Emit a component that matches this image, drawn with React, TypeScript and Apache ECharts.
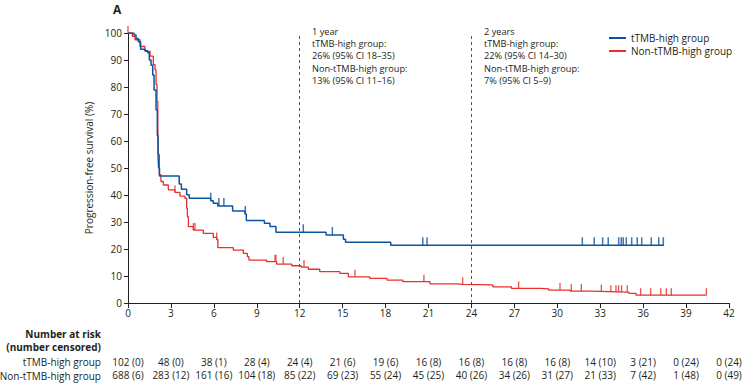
import React, { useEffect, useRef } from "react";
import * as echarts from "echarts";

const xTicks = [0, 3, 6, 9, 12, 15, 18, 21, 24, 27, 30, 33, 36, 39, 42];
const riskHigh = ["102 (0)", "48 (0)", "38 (1)", "28 (4)", "24 (4)", "21 (6)", "19 (6)", "16 (8)", "16 (8)", "16 (8)", "16 (8)", "14 (10)", "3 (21)", "0 (24)", "0 (24)"];
const riskNon = ["688 (6)", "283 (12)", "161 (16)", "104 (18)", "85 (22)", "69 (23)", "55 (24)", "45 (25)", "40 (26)", "34 (26)", "31 (27)", "21 (33)", "7 (42)", "1 (48)", "0 (49)"];

const blueCurve: [number, number][] = [
  [0, 100], [0.42, 99.3], [0.56, 98], [0.72, 96.8], [0.88, 94], [1.19, 93.4], [1.38, 92.7],
  [1.49, 90], [1.61, 88.1], [1.73, 84.4], [1.82, 78.9], [1.96, 71.5], [2.05, 62], [2.1, 55],
  [2.14, 50], [2.2, 47], [3.58, 44.1], [3.73, 42.1], [4.1, 40.1], [4.28, 38.8], [5.78, 37.9],
  [5.96, 36.9], [6.27, 35.9], [7.31, 34.1], [8.18, 33], [8.27, 30.6], [9.53, 29.5], [9.92, 28.3],
  [10.34, 26.2], [13.84, 25.2], [15.05, 23.6], [15.2, 22.5], [18.36, 21.4], [37.45, 21.4],
];

const redCurve: [number, number][] = [
  [0, 100], [0.3, 98.8], [0.49, 97.5], [0.84, 95], [1.19, 93.2], [1.54, 91.4], [1.77, 88.3],
  [1.89, 86.4], [1.96, 80.9], [2.03, 74.7], [2.08, 66], [2.12, 55], [2.19, 47.5], [2.3, 45],
  [2.47, 43.7], [2.82, 41.9], [3.28, 41], [3.63, 39.6], [3.98, 38.8], [4.1, 35], [4.15, 32],
  [4.22, 28.3], [4.57, 27], [5.26, 25.8], [5.96, 24.3], [6.2, 23.5], [6.28, 20.5], [7.36, 19.6],
  [8.06, 18.4], [8.34, 17.2], [8.45, 15.9], [9.69, 15.3], [10.39, 14.4], [11.44, 13.8],
  [12.1, 13.3], [12.6, 12.5], [13.4, 11.6], [14.8, 11], [15.4, 9.7], [16.9, 9.1], [18.1, 8.5],
  [19.2, 7.9], [21.1, 7.1], [23.0, 6.9], [23.4, 6.7], [25.5, 6.0], [26.8, 5.4], [28.8, 5.2],
  [29.4, 4.8], [30.9, 4.4], [32.3, 4.2], [33.6, 4.0], [35.0, 3.6], [35.5, 2.9], [40.42, 2.9],
];

const blueCensor = [5.78, 6.35, 6.7, 8.2, 12.25, 14.28, 20.6, 20.9, 31.75, 32.58, 33.17, 33.56, 34.29, 34.47, 34.61, 34.82, 35.2, 35.59, 35.9, 36.57, 37.09, 37.41];
const redCensor = [0, 3.28, 4.57, 4.68, 6.2, 10.27, 10.34, 10.85, 12.3, 15.86, 20.68, 23.39, 27.3, 30.19, 30.98, 31.68, 33.08, 33.75, 34.1, 34.28, 34.49, 34.89, 35.83, 36.53, 37.23, 37.62, 37.97, 40.42];

const annot12 = ["1 year", "tTMB-high group:", "26% (95% CI 18–35)", "Non-tTMB-high group:", "13% (95% CI 11–16)"];
const annot24 = ["2 years", "tTMB-high group:", "22% (95% CI 14–30)", "Non-tTMB-high group:", "7% (95% CI 5–9)"];

const BLUE = "#0b55a0";
const RED = "#e8302c";
const TXT = "#231f20";
const FONT = "Open Sans";

function valueAt(curve: [number, number][], t: number) {
  let v = curve[0][1];
  for (const [x, y] of curve) {
    if (x <= t) v = y;
    else break;
  }
  return v;
}

export default function App() {
  const ref = useRef<HTMLDivElement>(null);
  useEffect(() => {
    if (!ref.current) return;
    const chart = echarts.init(ref.current, undefined, { renderer: "svg" });
    const riskAxis = (arr: string[], offset: number) => ({
      type: "value",
      position: "bottom",
      offset,
      min: 0,
      max: 42,
      interval: 3,
      axisLine: { show: false },
      axisTick: { show: false },
      splitLine: { show: false },
      axisLabel: {
        margin: 0,
        fontFamily: FONT,
        fontSize: 10,
        color: TXT,
        showMinLabel: true,
        showMaxLabel: true,
        formatter: (v: number) => arr[Math.round(v / 3)] ?? "",
      },
    });
    const textLines = (lines: string[], x: number) =>
      lines.map((s, i) => ({
        type: "text",
        left: x,
        top: 27 + i * 12.2,
        style: { text: s, fontFamily: FONT, fontSize: 9.2, fill: TXT },
      }));
    chart.setOption({
      animation: false,
      textStyle: { fontFamily: FONT },
      grid: { left: 128, right: 16, top: 33, bottom: 84, containLabel: false },
      legend: {
        orient: "vertical",
        left: 609,
        top: 32,
        padding: 0,
        itemWidth: 17,
        itemHeight: 2,
        itemGap: 1,
        icon: "rect",
        data: ["tTMB-high group", "Non-tTMB-high group"],
        textStyle: { fontFamily: FONT, fontSize: 10, color: TXT, lineHeight: 12, padding: [0, 0, 0, 0] },
      },
      xAxis: [
        {
          type: "value",
          min: 0,
          max: 42,
          interval: 3,
          axisLine: { show: true, lineStyle: { color: TXT, width: 1 } },
          axisTick: { show: true, length: 5, lineStyle: { color: TXT } },
          splitLine: { show: false },
          axisLabel: { margin: 5, fontFamily: FONT, fontSize: 10, color: TXT, showMinLabel: true, showMaxLabel: true },
        },
        riskAxis(riskHigh, 54),
        riskAxis(riskNon, 67),
      ],
      yAxis: {
        type: "value",
        min: 0,
        max: 100,
        interval: 10,
        name: "Progression-free survival (%)",
        nameLocation: "middle",
        nameGap: 31,
        nameTextStyle: { fontFamily: FONT, fontSize: 10, color: TXT },
        axisLine: { show: true, lineStyle: { color: TXT, width: 1 } },
        axisTick: { show: true, length: 4, lineStyle: { color: TXT } },
        splitLine: { show: false },
        axisLabel: { margin: 6, fontFamily: FONT, fontSize: 10, color: TXT },
      },
      series: [
        {
          name: "Non-tTMB-high group",
          type: "line",
          step: "end",
          data: redCurve,
          showSymbol: false,
          lineStyle: { color: RED, width: 1.3 },
          itemStyle: { color: RED },
          z: 3,
          markLine: {
            silent: true,
            symbol: "none",
            label: { show: false },
            lineStyle: { color: "#46596b", type: [3, 3], width: 1 },
            data: [{ xAxis: 12 }, { xAxis: 24 }],
          },
        },
        {
          name: "tTMB-high group",
          type: "line",
          step: "end",
          data: blueCurve,
          showSymbol: false,
          lineStyle: { color: BLUE, width: 1.5 },
          itemStyle: { color: BLUE },
          z: 4,
        },
        {
          name: "redCensor",
          type: "scatter",
          clip: false,
          symbol: "rect",
          symbolSize: [1.3, 7],
          symbolOffset: [0, -3.5],
          itemStyle: { color: RED, opacity: 0.85 },
          data: redCensor.map((t) => [t, valueAt(redCurve, t)]),
          z: 3,
        },
        {
          name: "blueCensor",
          type: "scatter",
          clip: false,
          symbol: "rect",
          symbolSize: [1.5, 8],
          symbolOffset: [0, -4],
          itemStyle: { color: BLUE },
          data: blueCensor.map((t) => [t, valueAt(blueCurve, t)]),
          z: 4,
        },
      ],
      graphic: [
        { type: "text", left: 113, top: 3, style: { text: "A", fontFamily: FONT, fontSize: 12, fontWeight: "bold", fill: TXT } },
        ...textLines(annot12, 312),
        ...textLines(annot24, 484),
        { type: "text", x: 101, y: 334, style: { text: "Number at risk", align: "right", verticalAlign: "middle", fontFamily: FONT, fontSize: 10, fontWeight: "bold", fill: TXT } },
        { type: "text", x: 101, y: 347, style: { text: "(number censored)", align: "right", verticalAlign: "middle", fontFamily: FONT, fontSize: 10, fontWeight: "bold", fill: TXT } },
        { type: "text", x: 101, y: 362, style: { text: "tTMB-high group", align: "right", verticalAlign: "middle", fontFamily: FONT, fontSize: 10, fill: TXT } },
        { type: "text", x: 101, y: 375.5, style: { text: "Non-tTMB-high group", align: "right", verticalAlign: "middle", fontFamily: FONT, fontSize: 10, fill: TXT } },
      ],
    });
    return () => chart.dispose();
  }, []);
  return <div ref={ref} style={{ width: 745, height: 387, position: "absolute", left: 0, top: 0 }} />;
}
